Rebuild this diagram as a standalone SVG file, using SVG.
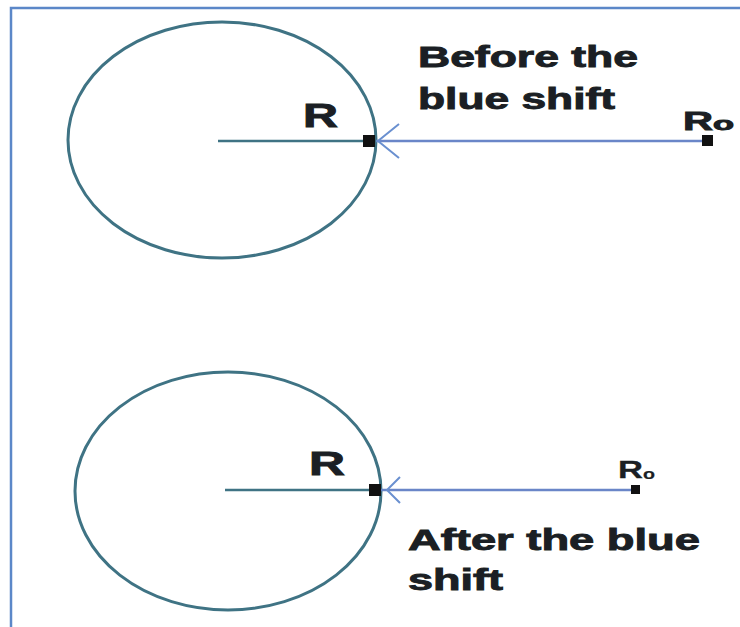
<svg xmlns="http://www.w3.org/2000/svg" width="740" height="627" viewBox="0 0 740 627">
<style>
.frame{fill:#fff;stroke:#5b87c8;stroke-width:2.5}
.orbit{fill:none;stroke:#3f7384;stroke-width:3}
.radius{stroke:#3f7384;stroke-width:2.5}
.ray{stroke:#6a86c8;stroke-width:2.5}
.head{fill:none;stroke:#6a90d0;stroke-width:2}
.dot{fill:#111}
.lbl{font-family:"Liberation Sans",Arial,sans-serif;font-weight:bold;fill:#1b1f24;stroke:#1b1f24;stroke-width:0.9}
</style>
<rect class="frame" x="11" y="8" width="740" height="640"/>
<g id="top">
  <ellipse class="orbit" cx="222" cy="140" rx="154" ry="118"/>
  <line class="radius" x1="218" y1="141" x2="368" y2="141"/>
  <text class="lbl" x="303" y="127" font-size="33" textLength="35" lengthAdjust="spacingAndGlyphs">R</text>
  <text class="lbl" x="418" y="67" font-size="29" textLength="220" lengthAdjust="spacingAndGlyphs">Before the</text>
  <text class="lbl" x="418" y="109" font-size="29" textLength="197" lengthAdjust="spacingAndGlyphs">blue shift</text>
  <text class="lbl" x="683" y="130" font-size="25" textLength="30" lengthAdjust="spacingAndGlyphs">R</text>
  <text class="lbl" x="713" y="130" font-size="18" textLength="21" lengthAdjust="spacingAndGlyphs">o</text>
</g>
<g id="bottom">
  <ellipse class="orbit" cx="228" cy="491" rx="153" ry="119"/>
  <line class="radius" x1="225" y1="490" x2="372" y2="490"/>
  <text class="lbl" x="309" y="475" font-size="33" textLength="36" lengthAdjust="spacingAndGlyphs">R</text>
  <text class="lbl" x="408" y="550" font-size="29" textLength="292" lengthAdjust="spacingAndGlyphs">After the blue</text>
  <text class="lbl" x="408" y="590" font-size="29" textLength="95" lengthAdjust="spacingAndGlyphs">shift</text>
  <text class="lbl" x="618" y="478" font-size="23" textLength="25" lengthAdjust="spacingAndGlyphs" style="stroke-width:0.3">R</text>
  <text class="lbl" x="643" y="479" font-size="14" textLength="12" lengthAdjust="spacingAndGlyphs" style="stroke-width:0.2">o</text>
</g>
<g id="connectors">
  <line class="ray" x1="376" y1="141" x2="708" y2="141"/>
  <polyline class="head" points="399,124 378,141 399,158"/>
  <rect class="dot" x="363" y="135" width="12" height="12"/>
  <rect class="dot" x="702" y="135" width="11" height="11"/>
  <line class="ray" x1="381" y1="490" x2="636" y2="490"/>
  <polyline class="head" points="400,477 387,490 400,503"/>
  <rect class="dot" x="369" y="484" width="12" height="12"/>
  <rect class="dot" x="631" y="485" width="9" height="9"/>
</g>
</svg>
